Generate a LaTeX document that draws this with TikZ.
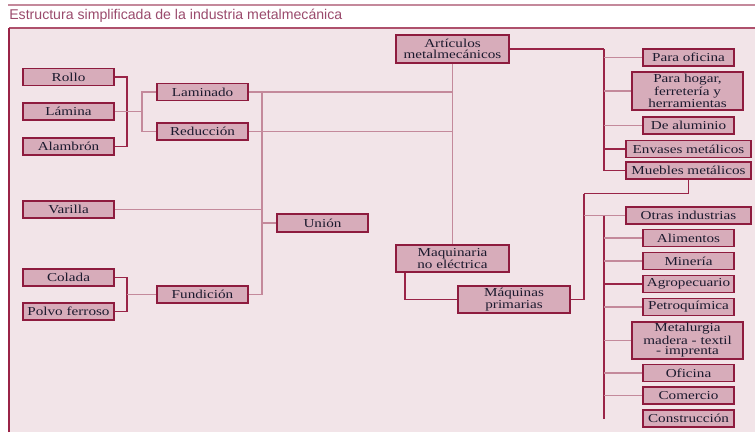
\documentclass[tikz,border=0pt]{standalone}
\usepackage{fontspec}
\setmainfont{Liberation Serif}
\newfontfamily\boxfont[FakeStretch=1.25]{Liberation Serif}
\newfontfamily\titlefont{Liberation Sans}
\definecolor{bgpink}{HTML}{F2E4E8}
\definecolor{boxfill}{HTML}{D7ACBA}
\definecolor{boxline}{HTML}{8E1B3E}
\definecolor{liteline}{HTML}{C4899B}
\definecolor{darkline}{HTML}{9A2447}
\definecolor{txt}{HTML}{1C1A2E}
\definecolor{titlecol}{HTML}{9A4A6C}
\begin{document}
\begin{tikzpicture}[x=0.75pt,y=-0.75pt,
  bx/.style={draw=boxline,fill=boxfill,line width=1.4pt,inner sep=0pt,
    align=center,text=txt,font=\boxfont\fontsize{9.1}{7.9}\selectfont},
  w91/.style={bx,minimum width=91*0.75pt,minimum height=17*0.75pt},
  w111/.style={bx,minimum width=111*0.75pt},
  w125/.style={bx,minimum width=125*0.75pt,minimum height=17*0.75pt},
  lite/.style={draw=liteline,line width=0.8pt},
  dk/.style={draw=darkline,line width=1.1pt}]
\useasboundingbox (0,0) rectangle (755,432);
% frame
\fill[bgpink] (8,28) rectangle (755,432);
\draw[liteline,line width=1.1pt] (8,5) -- (755,5);
\draw[darkline!80,line width=1.1pt] (9,28) -- (755,28);
\draw[darkline,line width=1.8pt] (9,432) -- (9,28);
\node[anchor=west,inner sep=0pt,text=titlecol,font=\titlefont\fontsize{10.6}{12}\selectfont] (title) at (9,15.5) {Estructura simplificada de la industria metalmecánica};
% left boxes
\node[w91] (rollo) at (68.5,77) {Rollo};
\node[w91] (lamina) at (68.5,111.5) {Lámina};
\node[w91] (alambron) at (68.5,146.5) {Alambrón};
\node[w91] (laminado) at (202.5,92) {Laminado};
\node[w91] (reduccion) at (202.5,131.5) {Reducción};
\node[w91] (varilla) at (68.5,209.5) {Varilla};
\node[w91,minimum height=18*0.75pt] (union) at (322.5,223) {Unión};
\node[w91] (colada) at (68.5,277.5) {Colada};
\node[w91] (polvo) at (68.5,311.5) {Polvo ferroso};
\node[w91] (fundicion) at (202.5,294.5) {Fundición};
% middle
\node[bx,minimum width=113*0.75pt,minimum height=28*0.75pt] (articulos) at (452.5,49) {Artículos\\metalmecánicos};
\node[bx,minimum width=113*0.75pt,minimum height=27*0.75pt] (maquinaria) at (452.5,258.5) {Maquinaria\\no eléctrica};
\node[bx,minimum width=112*0.75pt,minimum height=27*0.75pt] (maquinas) at (514,299.5) {Máquinas\\primarias};
% right top
\node[w91] (paraof) at (688.5,57.5) {Para oficina};
\node[w111,minimum height=38*0.75pt] (hogar) at (687.5,91) {Para hogar,\\ferretería y\\herramientas};
\node[w91] (aluminio) at (688.5,125.5) {De aluminio};
\node[w125] (envases) at (688.5,149) {Envases metálicos};
\node[w125] (muebles) at (688.5,170.5) {Muebles metálicos};
% right bottom
\node[w125] (otras) at (688.5,215.5) {Otras industrias};
\node[w91] (alimentos) at (688.5,238) {Alimentos};
\node[w91] (mineria) at (688.5,261) {Minería};
\node[w91] (agro) at (688.5,284) {Agropecuario};
\node[w91] (petro) at (688.5,307) {Petroquímica};
\node[w111,minimum height=37*0.75pt] (metal) at (687.5,340.5) {Metalurgia\\madera - textil\\- imprenta};
\node[w91] (oficina) at (688.5,373) {Oficina};
\node[w91] (comercio) at (688.5,395.5) {Comercio};
\node[w91] (constr) at (688.5,418.5) {Construcción};
% junction coordinates
\coordinate (jA) at (127,111.5);
\coordinate (jB) at (142,111.5);
\coordinate (jC) at (262,92);
\coordinate (jD) at (127,294.5);
\coordinate (jE) at (604,49);
\coordinate (jF) at (584,193.5);
\coordinate (jG) at (604,419);
\coordinate (jH) at (405,299.5);
% left connectors
\draw[dk,line width=0.9pt] (rollo.east) -| (jA) |- (alambron.east);
\draw[lite] (lamina.east) -- (jB);
\draw[lite] (laminado.west) -| (jB) |- (reduccion.west);
\draw[lite] (laminado.east) -- (laminado.east -| articulos.south);
\draw[lite] (reduccion.east) -- (reduccion.east -| articulos.south);
\draw[lite] (jC) -- (jC |- fundicion.east) -- (fundicion.east);
\draw[lite] (varilla.east) -- (varilla.east -| jC);
\draw[lite] (union.west) -- (union.west -| jC);
\draw[dk,line width=0.9pt] (colada.east) -| (jD) |- (polvo.east);
\draw[lite] (jD) -- (fundicion.west);
% middle connectors
\draw[lite] (articulos.south) -- (maquinaria.north);
\draw[dk] (jH |- maquinaria.south) -- (jH) -- (maquinas.west);
% right top connectors
\draw[dk,line width=0.9pt] (articulos.east) -- (jE);
\draw[dk,line width=1.4pt] (jE) |- (muebles.west);
\draw[lite] (paraof.west) -- (paraof.west -| jE);
\draw[lite] (hogar.west) -- (hogar.west -| jE);
\draw[lite] (aluminio.west) -- (aluminio.west -| jE);
\draw[dk,line width=1.4pt] (envases.west) -- (envases.west -| jE);
\draw[dk,line width=1.4pt] (muebles.south) |- (jF);
\draw[dk,line width=1.4pt] (jF) -- (jF |- maquinas.east) -- (maquinas.east);
% right bottom connectors
\draw[lite] (otras.west) -- (otras.west -| jF);
\draw[dk,line width=1.4pt] (jE |- otras.west) -- (jG);
\draw[lite] (alimentos.west) -- (alimentos.west -| jE);
\draw[lite] (mineria.west) -- (mineria.west -| jE);
\draw[dk,line width=1.4pt] (agro.west) -- (agro.west -| jE);
\draw[lite] (petro.west) -- (petro.west -| jE);
\draw[lite] (metal.west) -- (metal.west -| jE);
\draw[lite] (oficina.west) -- (oficina.west -| jE);
\draw[lite] (comercio.west) -- (comercio.west -| jE);
\end{tikzpicture}
\end{document}
